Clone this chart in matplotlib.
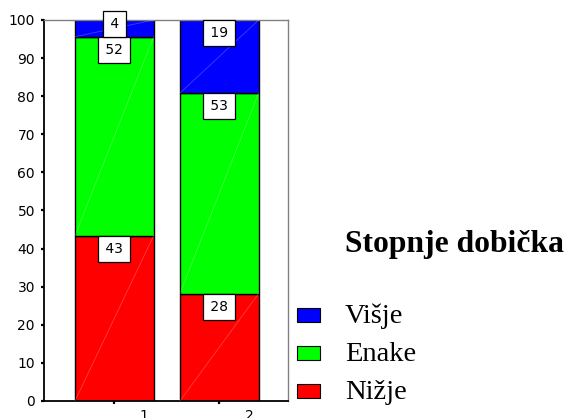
import matplotlib
matplotlib.use("Agg")
import matplotlib.pyplot as plt
from matplotlib.patches import Rectangle
import matplotlib.transforms as mtransforms

# Data: percentage shares per group
groups = ["1", "2"]
nizje = [43.4, 28.2]
enake = [52.2, 52.6]
visje = [4.4, 19.2]

colors = {"Nižje": "#ff0000", "Enake": "#00ff00", "Višje": "#0000ff"}

W, H, DPI = 568, 418, 100
fig = plt.figure(figsize=(W / DPI, H / DPI), dpi=DPI)
ax = fig.add_axes([44 / W, 17 / H, (288 - 44) / W, (401 - 20) / H])

positions = [1, 2]
bar_w = 0.75
label_fs = 10
pad_frac = 0.43
hair = "\u200a"

stack = [("Nižje", nizje), ("Enake", enake), ("Višje", visje)]
bottoms = [0.0, 0.0]
for name, vals in stack:
    bars = ax.bar(positions, vals, width=bar_w, bottom=bottoms,
                  color=colors[name], edgecolor="black", linewidth=1.0, zorder=2)
    for i, (b, v) in enumerate(zip(bars, vals)):
        x0 = b.get_x()
        y0 = bottoms[i]
        # faint diagonal streak across each segment
        ax.plot([x0, x0 + bar_w], [y0, y0 + v], color="white", alpha=0.25,
                lw=0.6, zorder=3)
        top = y0 + v
        box_px = 25
        seg_px = v / 100 * (401 - 20)
        if seg_px >= box_px:
            xy, off, va = (positions[i], top), -pad_frac * label_fs, "top"
        else:
            xy, off, va = (positions[i], y0), pad_frac * label_fs, "bottom"
        ax.annotate(f"{hair}{round(v)}{hair}", xy=xy, xytext=(0, off),
                    textcoords="offset points", ha="center", va=va,
                    fontsize=label_fs, family="DejaVu Sans", zorder=5,
                    bbox=dict(boxstyle=f"square,pad={pad_frac}", fc="white",
                              ec="black", lw=0.9))
    bottoms = [bottoms[j] + vals[j] for j in range(2)]

ax.set_xlim(0.33, 2.655)
ax.set_ylim(0, 100)
ax.set_yticks(range(0, 101, 10))
ax.set_xticks(positions)
ax.set_xticklabels(groups)
ax.tick_params(axis="both", direction="out", length=2.5, width=1.6,
               labelsize=10, colors="black")
ax.tick_params(axis="y", pad=4)
ax.tick_params(axis="x", pad=3.5)
shift = mtransforms.ScaledTranslation(30 / DPI, 0, fig.dpi_scale_trans)
for lbl in ax.get_xticklabels():
    lbl.set_transform(lbl.get_transform() + shift)

for s in ["top", "right"]:
    ax.spines[s].set_color("#808080")
    ax.spines[s].set_linewidth(1.0)
for s in ["left", "bottom"]:
    ax.spines[s].set_color("black")
    ax.spines[s].set_linewidth(1.3)


def fx(px):
    return px / W


def fy(py):
    return (H - py) / H


fig.text(fx(345), fy(252), "Stopnje dobička", fontsize=22.8, fontweight="bold",
         family="Liberation Serif", va="baseline", ha="left")

legend_rows = [("Višje", 323), ("Enake", 361), ("Nižje", 399)]
for name, base in legend_rows:
    fig.add_artist(Rectangle((fx(297), fy(base - 1)), 23 / W, 14 / H,
                             transform=fig.transFigure, fc=colors[name],
                             ec="black", lw=0.8))
    fig.text(fx(345), fy(base), name, fontsize=20.5, family="Liberation Serif",
             va="baseline", ha="left")

fig.savefig("out.png", dpi=DPI)
